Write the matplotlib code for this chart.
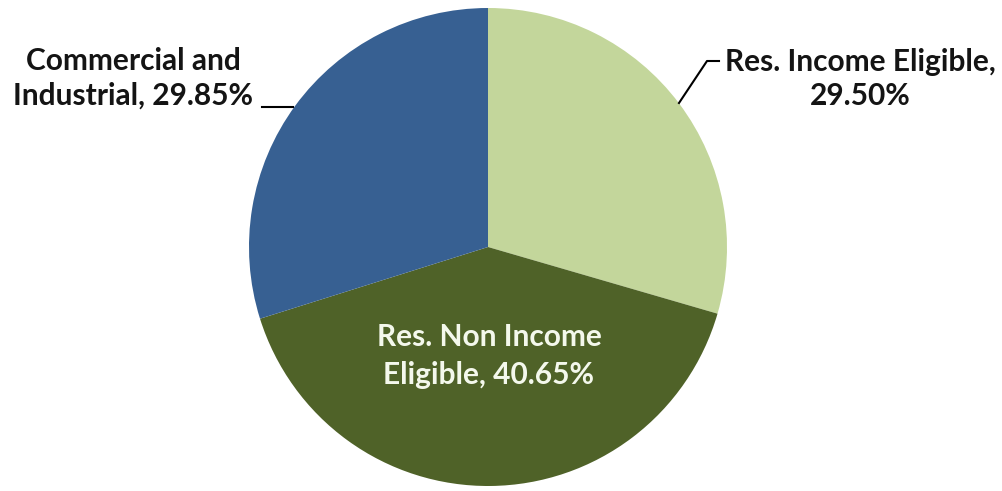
import matplotlib.pyplot as plt

# program share by customer segment
labels = ["Res. Income Eligible", "Res. Non Income Eligible", "Commercial and Industrial"]
shares = [29.50, 40.65, 29.85]
colors = ["#c3d69b", "#4f6228", "#376092"]

W, H = 1003, 491
fig = plt.figure(figsize=(W / 100, H / 100), dpi=100)
plt.rcParams['font.family'] = ['Lato', 'DejaVu Sans']

# pie axes: square box centred on the pie
cx, cy, r = 488, 247, 239
ax = fig.add_axes([(cx - r) / W, (H - cy - r) / H, 2 * r / W, 2 * r / H])
ax.pie(shares, colors=colors, startangle=90, counterclock=False, radius=1,
       wedgeprops=dict(linewidth=0))
ax.set_xlim(-1, 1)
ax.set_ylim(-1, 1)
ax.set_aspect('equal')
ax.axis('off')


def px(x, y):
    # pixel position -> data coords of the pie axes
    return ((x - cx) / r, (cy - y) / r)


fs = 21.5
ax.text(*px(860, 79), f"{labels[0]},\n{shares[0]:.2f}%", ha='center', va='center',
        fontsize=fs, fontweight='bold', color='#141414', linespacing=1.3, clip_on=False)
ax.text(*px(489, 356), "Res. Non Income\nEligible, " + f"{shares[1]:.2f}%", ha='center', va='center',
        fontsize=fs, fontweight='bold', color='#f4f8ec', linespacing=1.45)
ax.text(*px(133, 78), "Commercial and\nIndustrial, " + f"{shares[2]:.2f}%", ha='center', va='center',
        fontsize=fs, fontweight='bold', color='#141414', linespacing=1.3, clip_on=False)

# leader lines
xs, ys = zip(*[px(719, 61), px(707, 61), px(679, 103)])
ax.plot(xs, ys, color='black', lw=1.5, clip_on=False)
xs, ys = zip(*[px(262, 107), px(293, 107)])
ax.plot(xs, ys, color='black', lw=1.5, clip_on=False)

fig.savefig("out.png", dpi=100)
